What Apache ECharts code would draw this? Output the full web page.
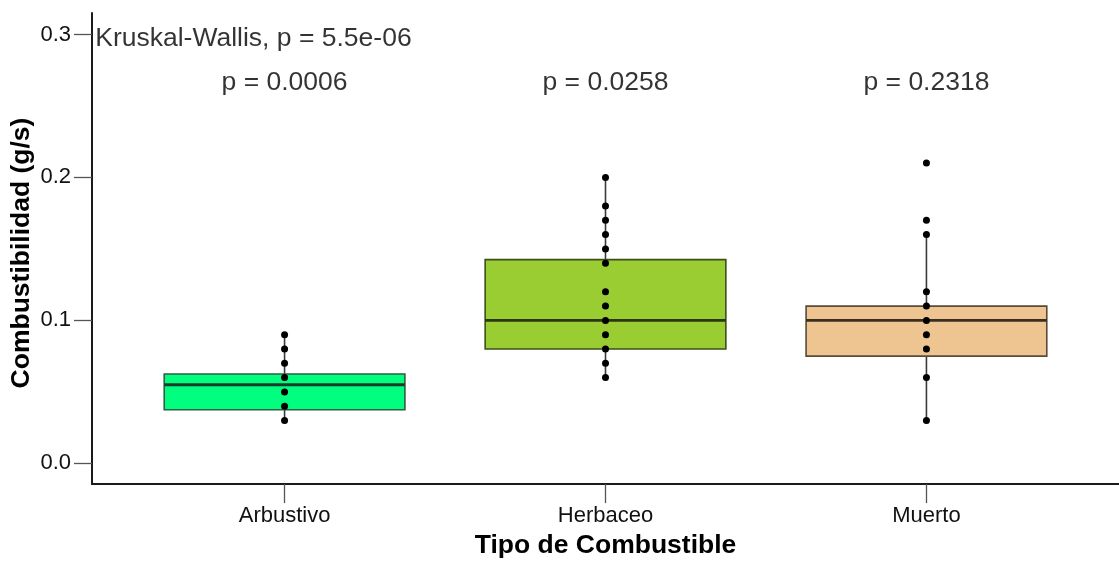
<!DOCTYPE html>
<html>
<head>
<meta charset="utf-8">
<script src="https://cdn.jsdelivr.net/npm/echarts@6/dist/echarts.min.js"></script>
<style>
html,body{margin:0;padding:0;background:#fff;}
#chart{width:1119px;height:564px;}
</style>
</head>
<body>
<div id="chart"></div>
<script>
// ---- data ----
const categories = ['Arbustivo', 'Herbaceo', 'Muerto'];
const whiskerLow  = [0.03, 0.06, 0.03];
const q1          = [0.0375, 0.08, 0.075];
const medians     = [0.055, 0.10, 0.10];
const q3          = [0.0625, 0.1425, 0.11];
const whiskerHigh = [0.09, 0.20, 0.16];
const pointsArbustivo = [0.03, 0.04, 0.05, 0.06, 0.07, 0.08, 0.09];
const pointsHerbaceo  = [0.06, 0.07, 0.08, 0.09, 0.10, 0.11, 0.12, 0.14, 0.15, 0.16, 0.17, 0.18, 0.20];
const pointsMuerto    = [0.03, 0.06, 0.08, 0.09, 0.10, 0.11, 0.12, 0.16, 0.17, 0.21];
const pLabels = ['p = 0.0006', 'p = 0.0258', 'p = 0.2318'];
const globalLabel = 'Kruskal-Wallis, p = 5.5e-06';
const yTicks = [0, 0.1, 0.2, 0.3];
const xTitle = 'Tipo de Combustible';
const yTitle = 'Combustibilidad (g/s)';

// ---- styles ----
const FONT = "'Liberation Sans', Arial, sans-serif";
const fills = ['#00FF7F', '#9ACD32', '#EEC591'];
const borders = ['#2f5e43', '#3c4f1c', '#5a4a38'];
const medianColors = ['#1f3a2a', '#2a3514', '#3a2e22'];

const boxData = categories.map((c, i) => [i + 1, whiskerLow[i], q1[i], medians[i], q3[i], whiskerHigh[i]]);
const allPoints = [pointsArbustivo, pointsHerbaceo, pointsMuerto];
const scatterData = [];
allPoints.forEach((arr, i) => arr.forEach(v => scatterData.push([i + 1, v])));

const P_Y = 0.266;
const KW_X = 0.41, KW_Y = 0.297;

function renderBox(params, api) {
  const x = api.value(0);
  const lo = api.coord([x, api.value(1)]);
  const b1 = api.coord([x, api.value(2)]);
  const md = api.coord([x, api.value(3)]);
  const b3 = api.coord([x, api.value(4)]);
  const hi = api.coord([x, api.value(5)]);
  const w = api.size([0.75, 0])[0];
  const i = params.dataIndex;
  return {
    type: 'group',
    children: [
      {type: 'line', shape: {x1: lo[0], y1: lo[1], x2: hi[0], y2: hi[1]},
       style: {stroke: '#3a3a3a', lineWidth: 1.6}},
      {type: 'rect', shape: {x: b3[0] - w / 2, y: b3[1], width: w, height: b1[1] - b3[1]},
       style: {fill: fills[i], stroke: borders[i], lineWidth: 1.6}},
      {type: 'line', shape: {x1: md[0] - w / 2, y1: md[1], x2: md[0] + w / 2, y2: md[1]},
       style: {stroke: medianColors[i], lineWidth: 2.8}}
    ]
  };
}

const chart = echarts.init(document.getElementById('chart'), null, {renderer: 'canvas'});
chart.setOption({
  animation: false,
  backgroundColor: '#fff',
  grid: {left: 92, top: 13, width: 1040, height: 480, containLabel: false},
  xAxis: {
    type: 'value', min: 0.4, max: 3.6,
    splitLine: {show: false},
    axisLine: {show: true, onZero: false, lineStyle: {color: '#1a1a1a', width: 2}},
    axisTick: {show: true, customValues: [1, 2, 3], length: 19, lineStyle: {color: '#555', width: 1.3}},
    axisLabel: {show: true, customValues: [1, 2, 3], margin: 21,
      formatter: v => categories[Math.round(v) - 1] || '',
      color: '#111', fontSize: 22, fontFamily: FONT},
    name: xTitle, nameLocation: 'middle', nameGap: 46,
    nameTextStyle: {fontSize: 26.5, fontWeight: 'bold', color: '#000', fontFamily: FONT}
  },
  yAxis: {
    type: 'value', min: -0.0145, max: 0.315,
    splitLine: {show: false},
    axisLine: {show: true, onZero: false, lineStyle: {color: '#1a1a1a', width: 2}},
    axisTick: {show: true, customValues: yTicks, length: 18, lineStyle: {color: '#555', width: 1.3}},
    axisLabel: {show: true, customValues: yTicks, margin: 21,
      formatter: v => Number(v).toFixed(1),
      color: '#111', fontSize: 22, fontFamily: FONT}
  },
  graphic: [{
    type: 'text', x: 22, y: 253, rotation: Math.PI / 2,
    style: {text: yTitle, fill: '#000', font: "bold 26.5px 'Liberation Sans', Arial, sans-serif",
      align: 'center', verticalAlign: 'middle'}
  }],
  series: [
    {type: 'custom', renderItem: renderBox, data: boxData,
     encode: {x: 0, y: [1, 2, 3, 4, 5]}, z: 2, clip: false},
    {type: 'scatter', data: scatterData, symbol: 'circle', symbolSize: 7,
     itemStyle: {color: '#000', opacity: 1}, z: 5},
    {type: 'scatter', symbolSize: 0, z: 6, silent: true,
     data: pLabels.map((t, i) => ({value: [i + 1, P_Y], name: t})),
     label: {show: true, position: 'inside', formatter: p => p.name,
       color: '#000', fontSize: 26.5, fontFamily: FONT}},
    {type: 'scatter', symbolSize: 0, z: 6, silent: true,
     data: [{value: [KW_X, KW_Y], name: globalLabel}],
     label: {show: true, position: 'right', distance: 0, formatter: p => p.name,
       color: '#000', fontSize: 26.5, fontFamily: FONT}}
  ]
});
</script>
</body>
</html>
